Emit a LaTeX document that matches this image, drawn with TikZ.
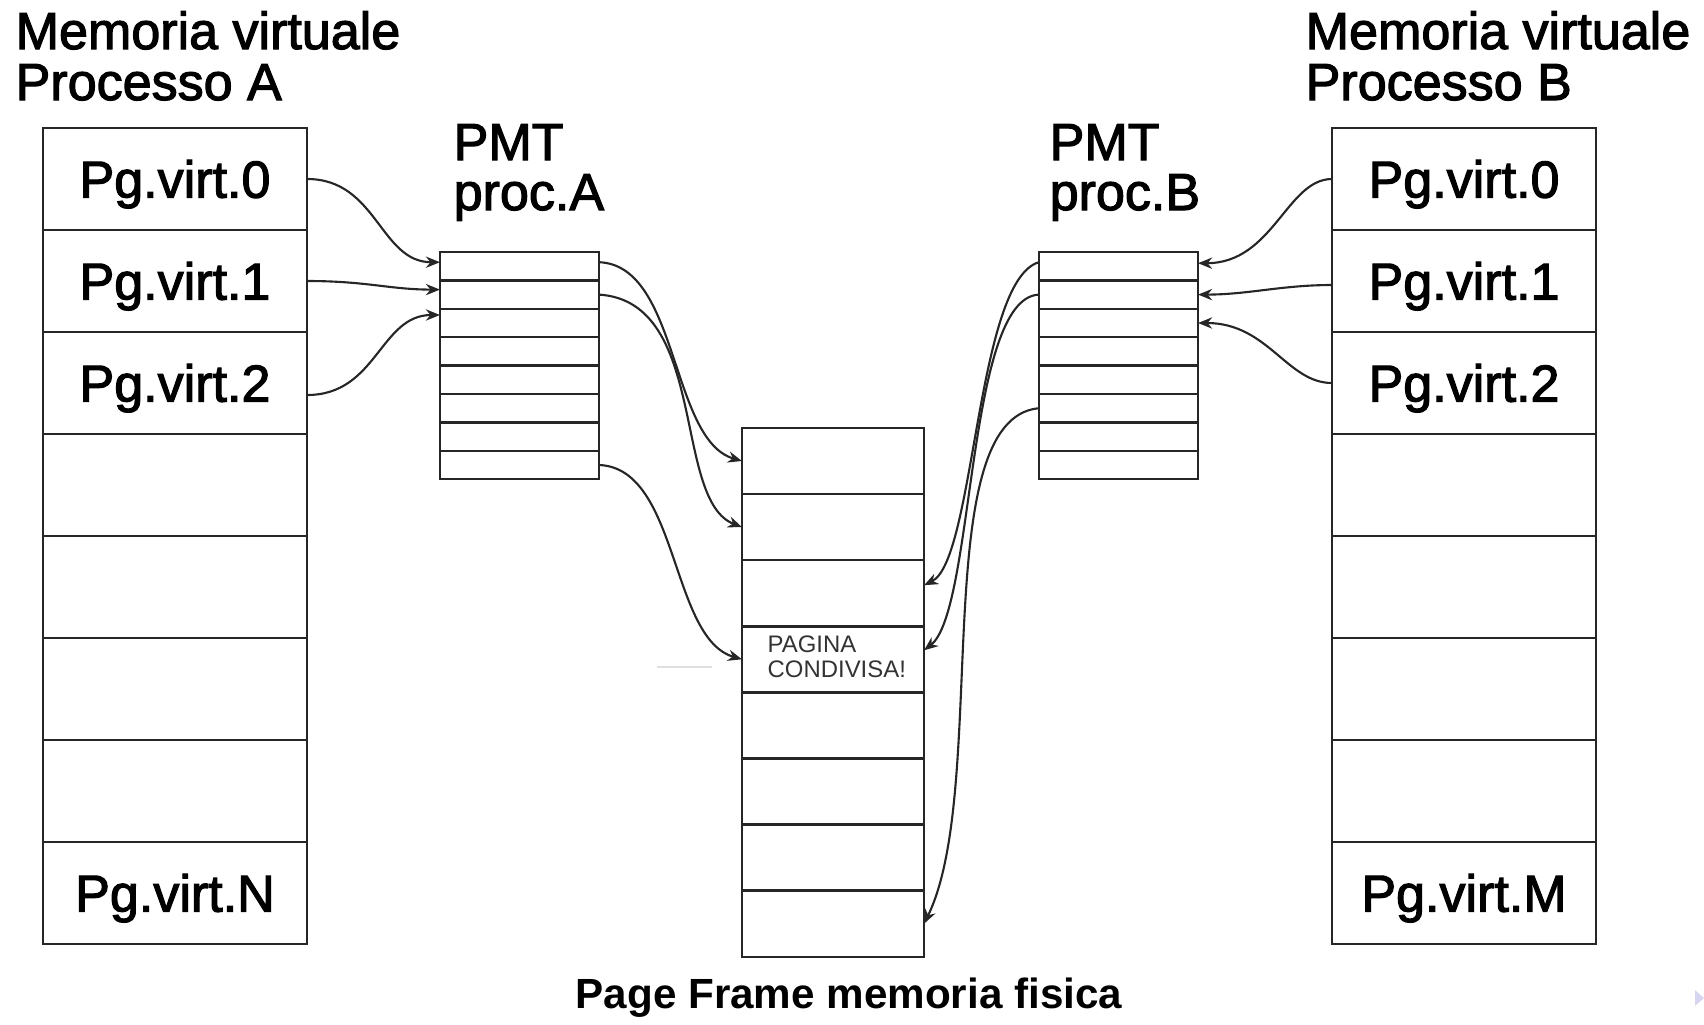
\documentclass[tikz,border=0pt]{standalone}
\usepackage{fontspec}
\setmainfont{Liberation Sans}
\newfontfamily\vmheavy{Liberation Sans}[FakeBold=2.2]
\usetikzlibrary{arrows.meta}

% font sizes used in the figure
\newcommand{\vmlarge}{\vmheavy\fontsize{14.8pt}{17pt}\selectfont}
\newcommand{\vmsmall}{\fontsize{6.8pt}{8pt}\selectfont}
\newcommand{\vmfoot}{\bfseries\fontsize{12.0pt}{14pt}\selectfont}
\definecolor{navtri}{RGB}{214,214,240}

\begin{document}
\begin{tikzpicture}[x=0.01cm,y=-0.01cm,
  box/.style={draw=black!85,line width=0.7pt,inner sep=0pt,outer sep=0pt},
  vrow/.style={box,minimum width=2.64cm,minimum height=1.02cm,font=\vmlarge,
               text height=10.6pt,text depth=0pt},
  prow/.style={box,minimum width=1.59cm,minimum height=0.284cm},
  frow/.style={box,minimum width=1.82cm,minimum height=0.661cm},
  title/.style={anchor=base west,inner sep=0pt,font=\vmlarge},
  link/.style={line width=0.6pt,draw=black!85,
               -{Stealth[length=4pt,width=3.2pt]}}]
\useasboundingbox (0,0) rectangle (1704,1024);

% headings
\node[title] (tA1) at (15,49) {Memoria virtuale};
\node[title] (tA2) at (15,100) {Processo A};
\node[title] (tB1) at (1305,49) {Memoria virtuale};
\node[title] (tB2) at (1305,100) {Processo B};
\node[title] (pA1) at (453,160) {PMT};
\node[title] (pA2) at (453,210) {proc.A};
\node[title] (pB1) at (1049,160) {PMT};
\node[title] (pB2) at (1049,210) {proc.B};

% virtual memory of the two processes
\foreach \i/\t in {0/Pg.virt.0,1/Pg.virt.1,2/Pg.virt.2,3/,4/,5/,6/,7/Pg.virt.N}
  \node[vrow] (A\i) at (175,{179+102*\i}) {\t};
\foreach \i/\t in {0/Pg.virt.0,1/Pg.virt.1,2/Pg.virt.2,3/,4/,5/,6/,7/Pg.virt.M}
  \node[vrow] (B\i) at (1464,{179+102*\i}) {\t};

% page map tables
\foreach \i in {0,...,7} {
  \node[prow] (PA\i) at (519.5,{266.2+28.4*\i}) {};
  \node[prow] (PB\i) at (1118.5,{266.2+28.4*\i}) {};
}

% physical page frames
\foreach \i in {0,...,7}
  \node[frow] (F\i) at (833,{461+66.1*\i}) {};
\node[anchor=base west,inner sep=0pt,font=\vmsmall,text=black!80] (sh1) at (767,652) {PAGINA};
\node[anchor=base west,inner sep=0pt,font=\vmsmall,text=black!80] (sh2) at (767,677) {CONDIVISA!};
\node[anchor=base,inner sep=0pt,font=\vmfoot] (foot) at (849,1008) {Page Frame memoria fisica};

% process A: virtual pages -> PMT entries
\draw[link] (A0.east) .. controls +(70,0) and +(-60,0) .. ([yshift=0.04cm]PA0.west);
\draw[link] (A1.east) .. controls +(60,0) and +(-50,0) .. ([yshift=0.05cm]PA1.west);
\draw[link] ([yshift=-0.12cm]A2.east) .. controls +(70,0) and +(-60,0) .. ([yshift=0.08cm]PA2.west);

% process A: PMT entries -> frames
\draw[link] ([yshift=0.04cm]PA0.east) .. controls +(80,3) and +(-72,-21) .. (F0.west);
\draw[link] (PA1.east) .. controls +(110,7) and +(-70,-27) .. (F1.west);
\draw[link] (PA7.east) .. controls +(80,3) and +(-72,-21) .. (F3.west);

% process B: virtual pages -> PMT entries
\draw[link] (B0.west) .. controls +(-45,0) and +(75,0) .. ([yshift=0.03cm]PB0.east);
\draw[link] ([yshift=-0.04cm]B1.west) .. controls +(-50,0) and +(50,0) .. (PB1.east);
\draw[link] (B2.west) .. controls +(-45,0) and +(70,0) .. (PB2.east);

% process B: PMT entries -> frames
\draw[link] ([yshift=0.04cm]PB0.west) .. controls +(-63,18) and +(51,-25) .. ([yshift=0.08cm]F2.east);
\draw[link] (PB1.west) .. controls +(-73,3) and +(51,-40) .. ([yshift=0.09cm]F3.east);
\draw[link] (PB5.west) .. controls +(-113,10) and +(66,-135) .. (F7.east);

% small marks
\draw[gray!25,line width=0.8pt] (657,667) -- (712,667);
\fill[navtri] (1695,990) -- (1704,998) -- (1695,1006) -- cycle;
\end{tikzpicture}
\end{document}
